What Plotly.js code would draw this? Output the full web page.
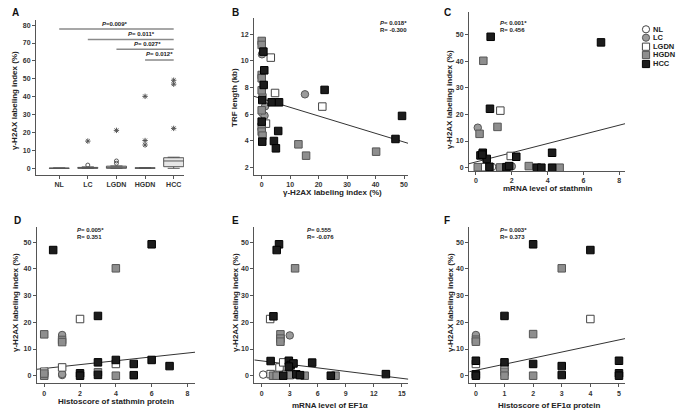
<!DOCTYPE html>
<html><head><meta charset="utf-8">
<script src="https://cdn.plot.ly/plotly-3.0.1.min.js"></script>
<style>html,body{margin:0;padding:0;background:#fff}#chart{width:680px;height:415px}</style>
</head><body><div id="chart"></div>
<script>
// ---------- Panel A : box plots ----------
const groupsA = ['NL','LC','LGDN','HGDN','HCC'];
const boxQ1 = [0, 0, 0, 0, 0.9];
const boxMedian = [0, 0.2, 0.3, 0.1, 4.1];
const boxQ3 = [0.1, 0.5, 1.2, 0.3, 5.9];
const boxLow = [0, 0, 0, 0, 0];
const boxHigh = [0.2, 0.8, 1.3, 0.4, 6.2];
const outCircleGroup = ['LC','LGDN','LGDN'];
const outCircleY = [1.8, 4.1, 2.8];
const outStarGroup = ['LC','LGDN','HGDN','HGDN','HGDN','HCC','HCC','HCC'];
const outStarY = [15.2, 21.2, 40.2, 15.5, 13, 49.2, 47, 22.3];
const pTextA = ['<i>P</i>=0.009*', '<i>P</i>= 0.011*', '<i>P</i>= 0.027*', '<i>P</i>= 0.012*'];
const pFromA = ['NL','LC','LGDN','HGDN'];
const pLevelA = [77.8, 72, 66.5, 60.5];

// ---------- Panel B : TRF length vs γ-H2AX ----------
const bGroup = ['HGDN','HGDN','HCC','LC','LGDN','HCC','HGDN','HGDN','HCC','HGDN','LGDN','LC','LC','HCC','HCC','HCC','HCC','LC','LGDN','HGDN','NL','LC','HCC','HCC','LGDN','HGDN','HCC','HGDN','HGDN','HCC','HCC','HCC','HGDN','HGDN','HGDN','HCC'];
const bX = [0,0,0.6,0.1,3.2,0.9,0,0,0.7,0,4.7,15.2,0.3,22.1,0.2,3.5,6.1,1.2,21.3,0,0.2,1.0,49.3,0,1.5,0,5.8,0,0.3,4.3,0.2,5.0,12.9,15.6,40.2,47];
const bY = [11.5,11.2,10.7,10.5,10.25,9.3,8.95,8.7,8.2,7.8,7.6,7.5,7.45,7.83,7.07,6.9,6.9,6.6,6.58,6.3,6.1,5.9,5.88,5.45,5.3,5.07,4.75,4.7,4.4,4.0,3.95,3.45,3.75,2.9,3.2,4.15];
const lineB_x = [-2.7, 51.4];
const lineB_y = [7.35, 3.83];

// ---------- Panel C : γ-H2AX vs mRNA stathmin ----------
const cGroup = ['HCC','HCC','HGDN','HCC','LGDN','HGDN','LC','HGDN','HCC','HCC','HCC','HCC','LGDN','HCC','HCC','HGDN','LGDN','HCC','NL','HGDN','HCC','HCC','LC','HGDN','HCC','HCC','HCC','HGDN'];
const cX = [0.82,6.98,0.41,0.78,1.36,1.2,0.1,0.2,0.38,0.25,0.6,0.35,1.94,2.25,4.25,0.1,0.5,0.75,0.9,1.35,1.7,1.85,2.0,2.95,3.4,3.65,4.25,4.67];
const cY = [49.1,47,40.1,22.1,21.4,15.3,15,12.7,5.6,4.6,3.3,4.9,4.4,4.1,5.6,0.2,0.2,0.3,0.3,0.1,0.2,0.6,0.5,0.6,0,0,0,0];
const lineC_x = [-0.39, 8.32];
const lineC_y = [1.5, 16.5];

// ---------- Panel D : γ-H2AX vs stathmin histoscore ----------
const dGroup = ['NL','LC','LC','LGDN','LGDN','LGDN','LGDN','HGDN','HGDN','HGDN','HGDN','HGDN','HGDN','HGDN','HGDN','HCC','HCC','HCC','HCC','HCC','HCC','HCC','HCC','HCC','HCC','HCC','HCC'];
const dX = [1,1,1,2,1,0,4,4,0,1,1,0,0,3,4,0.5,3,6,3,3,4,5,5,6,7,2,2];
const dY = [0.25,15.25,0.6,21.25,3.1,1.5,4.4,40.25,15.5,13.4,12.6,0,0.8,1.3,0,47.1,22.4,49.25,5,0.3,5.9,4.4,0.2,5.9,3.6,0.9,0];
const lineD_x = [-0.42, 8.42];
const lineD_y = [2.4, 8.8];

// ---------- Panel E : γ-H2AX vs mRNA EF1α ----------
const eGroup = ['NL','LC','LGDN','LGDN','LGDN','LGDN','LGDN','LGDN','HGDN','HGDN','HGDN','HGDN','HGDN','HGDN','HGDN','HGDN','HGDN','HCC','HCC','HCC','HCC','HCC','HCC','HCC','HCC','HCC','HCC','HCC','HCC','HCC','HCC'];
const eX = [0.15,3.0,0.9,1.9,2.3,0.95,2.6,3.1,3.57,2.0,2.0,2.0,1.2,1.6,3.0,4.6,7.9,1.85,1.6,1.25,0.95,2.9,3.1,3.4,2.9,5.4,13.3,7.4,2.3,3.7,4.1];
const eY = [0.4,15.1,21.25,3.1,5.0,0.6,0.6,0.8,40.25,15.5,13.9,12.75,0,0,0.2,0,0,49.25,47.1,22.25,5.5,5.6,4.0,4.6,3.4,4.9,0.6,0,0,0.5,0.2];
const lineE_x = [-0.8, 15.7];
const lineE_y = [5.9, -1.3];

// ---------- Panel F : γ-H2AX vs EF1α histoscore ----------
const fGroup = ['NL','LC','LC','LGDN','LGDN','LGDN','HGDN','HGDN','HGDN','HGDN','HGDN','HGDN','HGDN','HCC','HCC','HCC','HCC','HCC','HCC','HCC','HCC','HCC','HCC','HCC','HCC','HCC'];
const fX = [0,0,1,4,0,1,3,2,0,0,1,1,2,2,4,1,0,0,0,1,2,3,3,5,5,5];
const fY = [0.3,15.25,0.8,21.25,4.4,3.2,40.25,15.6,13.5,12.75,1.5,0,0,49.25,47.1,22.4,5.6,0.5,0,5,4.4,3.6,0.25,5.6,0.9,0];
const lineF_x = [-0.23, 5.21];
const lineF_y = [1.5, 13.9];

const legendNames = ['NL','LC','LGDN','HGDN','HCC'];

// ---------- styling ----------
const FONT = 'Arial, "Liberation Sans", sans-serif';
const W = 680, H = 415;
const px = v => v / W;
const py = v => 1 - v / H;
const markerStyle = {
  NL:   {symbol:'circle', color:'#ffffff', line:{color:'#444', width:1}},
  LC:   {symbol:'circle', color:'#9a9a9a', line:{color:'#555', width:1}},
  LGDN: {symbol:'square', color:'#ffffff', line:{color:'#444', width:1}},
  HGDN: {symbol:'square', color:'#8e8e8e', line:{color:'#555', width:1}},
  HCC:  {symbol:'square', color:'#1c1c1c', line:{color:'#000', width:1}}
};

const traces = [];
// Panel A
traces.push({
  type:'box', xaxis:'x', yaxis:'y',
  x: groupsA.map((g,i)=>i), q1: boxQ1, median: boxMedian, q3: boxQ3,
  lowerfence: boxLow, upperfence: boxHigh,
  width: 0.7, whiskerwidth: 0.6, boxpoints: false,
  fillcolor:'#e6e6e6', line:{color:'#555', width:1}, showlegend:false, hoverinfo:'skip'
});
traces.push({
  type:'scatter', mode:'markers', xaxis:'x', yaxis:'y',
  x: outCircleGroup.map(g=>groupsA.indexOf(g)), y: outCircleY,
  marker:{symbol:'circle-open', size:4, color:'#555', line:{width:1}}, showlegend:false
});
traces.push({
  type:'scatter', mode:'markers', xaxis:'x', yaxis:'y',
  x: outStarGroup.map(g=>groupsA.indexOf(g)), y: outStarY,
  marker:{symbol:'asterisk-open', size:4.5, color:'#555', line:{width:1, color:'#555'}}, showlegend:false
});

function addScatter(groups, xs, ys, xa, ya, lx, ly) {
  traces.push({type:'scatter', mode:'lines', xaxis:xa, yaxis:ya, x:lx, y:ly,
    line:{color:'#333', width:1}, showlegend:false, hoverinfo:'skip'});
  legendNames.forEach(g => {
    const idx = groups.map((v,i)=>v===g?i:-1).filter(i=>i>=0);
    traces.push({type:'scatter', mode:'markers', xaxis:xa, yaxis:ya,
      x: idx.map(i=>xs[i]), y: idx.map(i=>ys[i]),
      marker: Object.assign({size:7.5}, markerStyle[g]), showlegend:false, name:g});
  });
}
addScatter(bGroup, bX, bY, 'x2', 'y2', lineB_x, lineB_y);
addScatter(cGroup, cX, cY, 'x3', 'y3', lineC_x, lineC_y);
addScatter(dGroup, dX, dY, 'x4', 'y4', lineD_x, lineD_y);
addScatter(eGroup, eX, eY, 'x5', 'y5', lineE_x, lineE_y);
addScatter(fGroup, fX, fY, 'x6', 'y6', lineF_x, lineF_y);

function ax(dom, range, anchor, extra) {
  return Object.assign({
    domain: dom, range: range, anchor: anchor,
    showline:true, linecolor:'#555', linewidth:1,
    ticks:'outside', ticklen:3, tickwidth:1, tickcolor:'#555',
    showgrid:false, zeroline:false,
    tickfont:{family:FONT, size:7, color:'#333', weight:'bold'}
  }, extra||{});
}

const layout = {
  width: W, height: H, margin:{l:0,r:0,t:0,b:0},
  paper_bgcolor:'#fff', plot_bgcolor:'#fff', showlegend:false,
  font:{family:FONT},
  xaxis:  ax([px(36), px(184)], [-0.81, 4.36], 'y', {tickvals:[0,1,2,3,4], ticktext:groupsA}),
  yaxis:  ax([py(175), py(20)], [-3.74, 82.85], 'x', {tickvals:[0,10,20,30,40,50,60,70,80]}),
  xaxis2: ax([px(254), px(408)], [-2.7, 51.4], 'y2', {tickvals:[0,10,20,30,40,50]}),
  yaxis2: ax([py(175), py(18)], [1.45, 13.22], 'x2', {tickvals:[2,4,6,8,10,12]}),
  xaxis3: ax([px(469), px(625)], [-0.39, 8.32], 'y3', {tickvals:[0,2,4,6,8]}),
  yaxis3: ax([py(171), py(12)], [-1.24, 58.4], 'x3', {tickvals:[0,10,20,30,40,50]}),
  xaxis4: ax([px(36.7), px(195)], [-0.42, 8.42], 'y4', {tickvals:[0,2,4,6,8]}),
  yaxis4: ax([py(383.3), py(226.7)], [-2.85, 55.85], 'x4', {tickvals:[0,10,20,30,40,50]}),
  xaxis5: ax([px(254.3), px(408.3)], [-0.8, 15.7], 'y5', {tickvals:[0,3,6,9,12,15]}),
  yaxis5: ax([py(383.3), py(226.7)], [-2.85, 55.85], 'x5', {tickvals:[0,10,20,30,40,50]}),
  xaxis6: ax([px(469.3), px(625)], [-0.23, 5.21], 'y6', {tickvals:[0,1,2,3,4,5]}),
  yaxis6: ax([py(383.3), py(226.7)], [-2.85, 55.85], 'x6', {tickvals:[0,10,20,30,40,50]}),
  shapes: [], annotations: []
};

// brackets in panel A
pFromA.forEach((g,i) => {
  layout.shapes.push({type:'line', xref:'x', yref:'y', x0:groupsA.indexOf(g), x1:4,
    y0:pLevelA[i], y1:pLevelA[i], line:{color:'#8a8a8a', width:1.5}});
});
const pTextAX = [1.95, 2.86, 3.1, 3.52];
const pTextAY = [80.6, 74.9, 69.4, 63.9];
pTextA.forEach((t,i) => layout.annotations.push({xref:'x', yref:'y', x:pTextAX[i], y:pTextAY[i],
  text:'<b>'+t+'</b>', showarrow:false, font:{family:FONT, size:6, color:'#222'}}));

function note(text, x, y, opts) {
  layout.annotations.push(Object.assign({xref:'paper', yref:'paper', x:px(x), y:py(y),
    text:text, showarrow:false, xanchor:'center', yanchor:'middle',
    font:{family:FONT, size:8, color:'#222', weight:'bold'}}, opts||{}));
}
// panel letters
[['A',15,13],['B',235,13],['C',447,13],['D',17,220],['E',235,220],['F',447,220]].forEach(a =>
  note(a[0], a[1], a[2], {font:{family:FONT, size:10, color:'#111', weight:'bold'}}));
// axis titles
const yT = 'γ-H2AX labeling index (%)';
note(yT, 15, 101, {textangle:-90});
note('TRF length (kb)', 235, 98, {textangle:-90});
note(yT, 449, 100, {textangle:-90});
note(yT, 15, 303, {textangle:-90});
note(yT, 235, 303, {textangle:-90});
note(yT, 450, 303, {textangle:-90});
note(yT, 332, 193);
note('mRNA level of stathmin', 548, 188);
note('Histoscore of stathmin protein', 116, 401);
note('mRNA level of EF1α', 330, 405);
note('Histoscore of EF1α protein', 549, 405);
// statistics text
const stat = (t, x, y) => note('<b>'+t+'</b>', x, y, {xanchor:'left', font:{family:FONT, size:6, color:'#222'}});
stat('<i>P</i>= 0.018*', 378, 23); stat('R= -0.300', 378, 30);
stat('<i>P</i>< 0.001*', 498, 23); stat('R= 0.456', 498, 30);
stat('<i>P</i>= 0.005*', 75, 230);  stat('R= 0.351', 75, 237);
stat('<i>P</i>= 0.555', 305, 230);  stat('R= -0.076', 305, 237);
stat('<i>P</i>= 0.003*', 498, 230); stat('R= 0.373', 498, 237);

// legend (drawn as shapes + labels)
const legRows = [29.3, 37.7, 46.7, 55, 64];
legendNames.forEach((g,i) => {
  const st = markerStyle[g], cy = legRows[i], r = 3.6;
  layout.shapes.push({type: st.symbol==='circle' ? 'circle' : 'rect', xref:'paper', yref:'paper',
    x0:px(646-r), x1:px(646+r), y0:py(cy+r), y1:py(cy-r),
    fillcolor: st.color, line:{color: st.line.color, width:1}});
  note(g, 651, cy, {xanchor:'left', font:{family:FONT, size:7.5, color:'#222', weight:'bold'}});
});

Plotly.newPlot('chart', traces, layout, {staticPlot:true});
</script>
</body></html>
